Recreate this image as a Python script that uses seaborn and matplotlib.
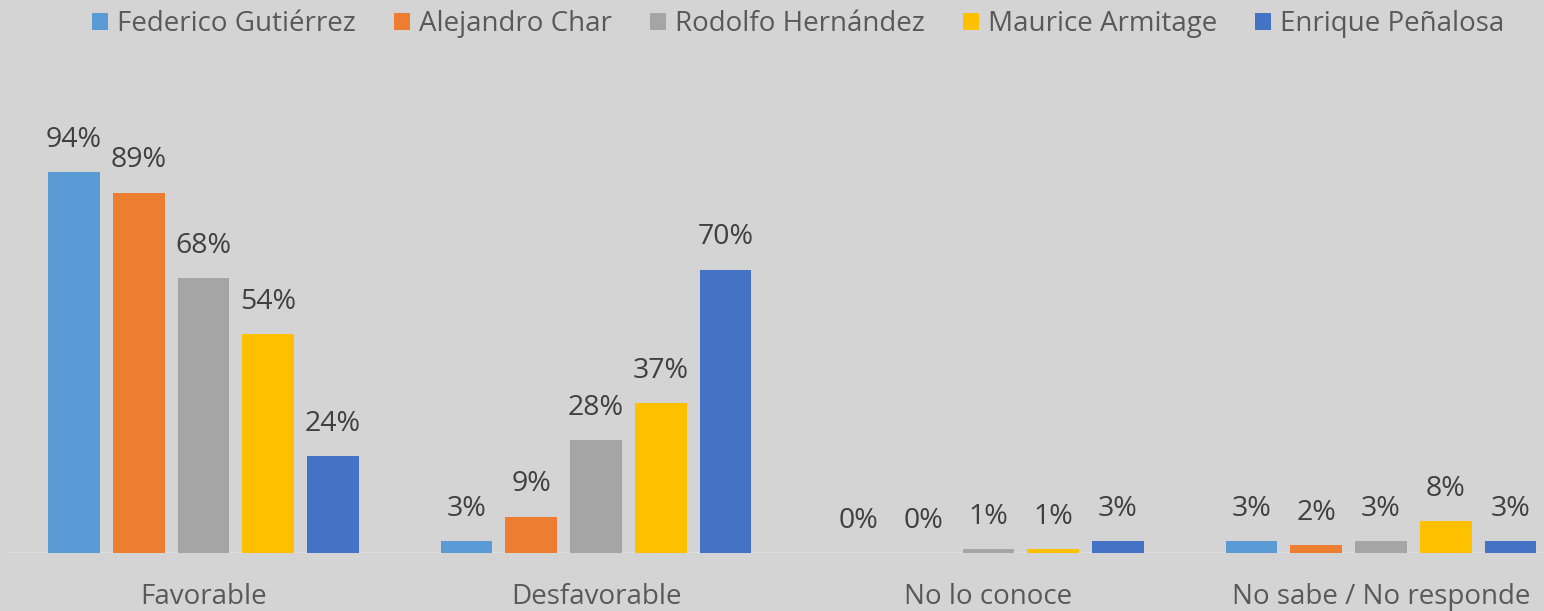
import matplotlib
matplotlib.use("Agg")
import matplotlib.pyplot as plt
from matplotlib.patches import Patch
import seaborn as sns
import pandas as pd

categories = ["Favorable", "Desfavorable", "No lo conoce", "No sabe / No responde"]
candidates = ["Federico Gutiérrez", "Alejandro Char", "Rodolfo Hernández",
              "Maurice Armitage", "Enrique Peñalosa"]
federico = [94, 3, 0, 3]
alejandro = [89, 9, 0, 2]
rodolfo = [68, 28, 1, 3]
maurice = [54, 37, 1, 8]
enrique = [24, 70, 3, 3]
colors = ["#5B9BD5", "#ED7D31", "#A5A5A5", "#FFC000", "#4472C4"]

series = [federico, alejandro, rodolfo, maurice, enrique]
rows = []
for cand, vals in zip(candidates, series):
    for cat, v in zip(categories, vals):
        rows.append({"cat": cat, "cand": cand, "val": v})
df = pd.DataFrame(rows)

BG = "#d4d4d4"
sns.set_theme(style="white")
plt.rcParams["font.family"] = ["Open Sans", "DejaVu Sans"]

W, H = 1544, 611
fig = plt.figure(figsize=(W / 100, H / 100), dpi=100, facecolor=BG)
ax = fig.add_axes([0, 58 / H, 1, 405 / H], facecolor=BG)

sns.barplot(data=df, x="cat", y="val", hue="cand", order=categories,
            hue_order=candidates, palette=colors, saturation=1,
            width=0.825, gap=0.2, ax=ax, legend=False, zorder=3,
            linewidth=0, edgecolor="none")

for cont, vals in zip(ax.containers, series):
    ax.bar_label(cont, labels=[f"{v}%" for v in vals], padding=13,
                 fontsize=20.5, color="#404040")

ax.set_xlim(-203.5 / 392.5, (W - 203.5) / 392.5)
ax.set_ylim(0, 100)
ax.axhline(0, xmin=9 / W, xmax=1, color="#e2e2e2", lw=1.8, zorder=2)
for s in ax.spines.values():
    s.set_visible(False)
ax.set_yticks([])
ax.set_xlabel("")
ax.set_ylabel("")
ax.tick_params(axis="x", length=0, pad=21.5, labelsize=20, labelcolor="#595959")

handles = [Patch(facecolor=c, edgecolor="none") for c in colors]
fig.legend(handles, candidates, loc="center", bbox_to_anchor=(0.517, 1 - 24 / H),
           ncol=5, frameon=False, fontsize=20, labelcolor="#595959",
           handlelength=0.58, handleheight=0.58, handletextpad=0.32,
           columnspacing=1.37)

fig.savefig("out.png", dpi=100, facecolor=BG)
